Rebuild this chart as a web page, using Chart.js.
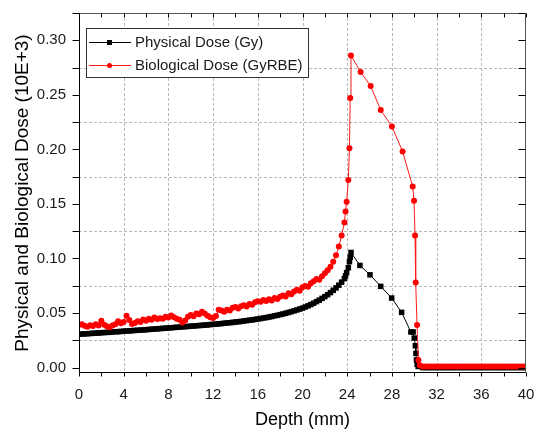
<!DOCTYPE html>
<html><head><meta charset="utf-8">
<script src="https://cdn.jsdelivr.net/npm/chart.js@4.4.0/dist/chart.umd.min.js"></script>
<style>html,body{margin:0;padding:0;background:#fff;}#c{display:block;}</style>
</head><body>
<canvas id="c" width="539" height="431"></canvas>
<script>
// ---- data ----
const depthDense = [0,0.25,0.5,0.75,1,1.25,1.5,1.75,2,2.25,2.5,2.75,3,3.25,3.5,3.75,4,4.25,4.5,4.75,5,5.25,5.5,5.75,6,6.25,6.5,6.75,7,7.25,7.5,7.75,8,8.25,8.5,8.75,9,9.25,9.5,9.75,10,10.25,10.5,10.75,11,11.25,11.5,11.75,12,12.25,12.5,12.75,13,13.25,13.5,13.75,14,14.25,14.5,14.75,15,15.25,15.5,15.75,16,16.25,16.5,16.75,17,17.25,17.5,17.75,18,18.25,18.5,18.75,19,19.25,19.5,19.75,20,20.25,20.5,20.75,21,21.25,21.5,21.75,22,22.25,22.5,22.75,23,23.25,23.5,23.75];
const physDense = [
.0305,.0307,.0309,.0310, .0312,.0314,.0315,.0317, .0319,.0321,.0322,.0324, .0326,.0328,.0329,.0331,
.0333,.0335,.0336,.0338, .0340,.0342,.0343,.0345, .0347,.0349,.0351,.0353, .0355,.0357,.0359,.0361,
.0363,.0365,.0367,.0369, .0371,.0373,.0375,.0377, .0379,.0381,.0383,.0385, .0387,.0389,.0391,.0394,
.0396,.0398,.0401,.0403, .0406,.0409,.0411,.0414, .0417,.0420,.0423,.0427, .0430,.0434,.0437,.0441,
.0445,.0449,.0454,.0458, .0463,.0468,.0474,.0479, .0485,.0491,.0498,.0505, .0512,.0520,.0528,.0536,
.0545,.0555,.0566,.0578, .0590,.0604,.0618,.0634, .0650,.0668,.0687,.0708, .0730,.0755,.0783,.0815];
const bioDense = [
.0390,.0398,.0382,.0375, .0388,.0380,.0396,.0385, .0428,.0392,.0378,.0370, .0385,.0396,.0424,.0405,
.0418,.0475,.0436,.0400, .0408,.0425,.0418,.0440, .0428,.0447,.0438,.0458, .0445,.0452,.0448,.0465,
.0458,.0478,.0462,.0448, .0438,.0412,.0432,.0465, .0482,.0470,.0495,.0488, .0512,.0496,.0475,.0462,
.0455,.0472,.0530,.0522, .0512,.0530,.0522,.0548, .0555,.0542,.0562,.0570, .0560,.0582,.0575,.0598,
.0608,.0602,.0620,.0610, .0625,.0615,.0638,.0628, .0648,.0660,.0652,.0680, .0672,.0698,.0712,.0705,
.0735,.0748,.0740,.0772, .0790,.0812,.0805,.0838, .0865,.0892,.0925,.0970, .1030,.1110,.1210,.1330];
const depthPeak = [23.85,23.95,24.1,24.2,24.27,24.34];
const physPeak  = [.0840,.0870,.0915,.0970,.1010,.1055];
const bioPeak   = [.143,.152,.172,.201,.247,.286];
const physFallDepth = [25.14,26.04,27.0,27.98,28.87,29.7,29.9,30.0,30.1,30.15,30.2,30.26,30.35];
const physFall      = [.0936,.0850,.0744,.0637,.0506,.0326,.0326,.0270,.0200,.0130,.0070,.0030,.0010];
const bioFallDepth  = [25.2,26.1,27.0,28.0,28.96,29.86,29.98,30.07,30.13,30.25,30.37,30.5];
const bioFall       = [.271,.258,.236,.221,.198,.166,.153,.121,.078,.039,.007,.002];
const depthTail = [30.75,31,31.25,31.5,31.75,32,32.25,32.5,32.75,33,33.25,33.5,33.75,34,34.25,34.5,34.75,35,35.25,35.5,35.75,36,36.25,36.5,36.75,37,37.25,37.5,37.75,38,38.25,38.5,38.75,39,39.25,39.5,39.75,40];
const physTail = [0,0,0,0,0,0,0,0,0,0,0,0,0,0,0,0,0,0,0,0,0,0,0,0,0,0,0,0,0,0,0,0,0,0,0,0,0,0];
const bioTail  = [.001,.001,.001,.001,.001,.001,.001,.001,.001,.001,.001,.001,.001,.001,.001,.001,.001,.001,.001,.001,.001,.001,.001,.001,.001,.001,.001,.001,.001,.001,.001,.001,.001,.001,.001,.001,.001,.001];

const seriesNames = ['Physical Dose (Gy)', 'Biological Dose (GyRBE)'];
const xTickLabels = [0,4,8,12,16,20,24,28,32,36,40];
const yTickLabels = [0,0.05,0.10,0.15,0.20,0.25,0.30];
const xMinorTicks = [0,2,4,6,8,10,12,14,16,18,20,22,24,26,28,30,32,34,36,38,40];
const yMinorTicks = [0,0.025,0.05,0.075,0.1,0.125,0.15,0.175,0.2,0.225,0.25,0.275,0.3,0.325];
const xGridLines = [4,8,12,16,20,24,28,32,36];
const yGridLines = [0.025,0.075,0.125,0.175,0.225,0.275];

function pts(xs, ys){ return xs.map((x,i)=>({x:x, y:ys[i]})); }
const physData = pts(depthDense, physDense).concat(pts(depthPeak, physPeak), pts(physFallDepth, physFall), pts(depthTail, physTail));
const bioData  = pts(depthDense, bioDense).concat(pts(depthPeak, bioPeak), pts(bioFallDepth, bioFall), pts(depthTail, bioTail));

const FONT = "'Liberation Sans', Arial, sans-serif";
Chart.defaults.font.family = FONT;

const decor = {
  id: 'decor',
  beforeDatasetsDraw(chart){
    const {ctx, chartArea:a, scales:{x, y}} = chart;
    ctx.save();
    ctx.strokeStyle = '#b8b8b8'; ctx.lineWidth = 1; ctx.setLineDash([3,2]);
    ctx.beginPath();
    xGridLines.forEach(v=>{ const p = Math.round(x.getPixelForValue(v)) + 0.5; ctx.moveTo(p, a.top); ctx.lineTo(p, a.bottom); });
    yGridLines.forEach(v=>{ const p = Math.round(y.getPixelForValue(v)) + 0.5; ctx.moveTo(a.left, p); ctx.lineTo(a.right, p); });
    ctx.stroke();
    ctx.restore();
  },
  afterDraw(chart){
    const {ctx, chartArea:a, scales:{x, y}} = chart;
    const L = Math.round(a.left)+0.5, R = Math.round(a.right)-0.5, T = Math.round(a.top)+0.5, B = Math.round(a.bottom)-0.5;
    ctx.save();
    ctx.setLineDash([]);
    ctx.lineWidth = 1;
    ctx.strokeStyle = '#555';
    ctx.beginPath(); ctx.moveTo(L, T); ctx.lineTo(R, T); ctx.lineTo(R, B); ctx.stroke();
    ctx.strokeStyle = '#000';
    ctx.beginPath(); ctx.moveTo(L, T); ctx.lineTo(L, B); ctx.lineTo(R, B); ctx.stroke();
    ctx.beginPath();
    yMinorTicks.forEach(v=>{ const p = Math.round(y.getPixelForValue(v))+0.5; if (p < T-1) return;
      ctx.moveTo(L-7, p); ctx.lineTo(L, p); ctx.moveTo(R, p); ctx.lineTo(R-7, p); });
    xMinorTicks.forEach(v=>{ const p = Math.round(x.getPixelForValue(v))+0.5;
      ctx.moveTo(p, B); ctx.lineTo(p, B+4); ctx.moveTo(p, T); ctx.lineTo(p, T+4); });
    ctx.stroke();
    // legend
    const bx = 86.5, by = 28.5, bw = 222, bh = 49;
    ctx.fillStyle = '#fff'; ctx.fillRect(bx, by, bw, bh);
    ctx.strokeStyle = '#333'; ctx.strokeRect(bx, by, bw, bh);
    const rows = [42, 65];
    chart.data.datasets.forEach((ds, i)=>{
      const ry = rows[i] + 0.5;
      ctx.strokeStyle = ds.borderColor; ctx.lineWidth = 1;
      ctx.beginPath(); ctx.moveTo(89, ry); ctx.lineTo(131, ry); ctx.stroke();
      ctx.fillStyle = ds.pointBackgroundColor;
      if (ds.pointStyle === 'rect') ctx.fillRect(107, rows[i]-2, 5, 5);
      else { ctx.beginPath(); ctx.arc(109.5, ry, 2.5, 0, Math.PI*2); ctx.fill(); }
      ctx.fillStyle = '#1a1a1a'; ctx.font = '15px ' + FONT; ctx.textBaseline = 'middle'; ctx.textAlign = 'left';
      ctx.fillText(ds.label, 135, rows[i] + 1);
    });
    ctx.restore();
  }
};

new Chart(document.getElementById('c'), {
  type: 'scatter',
  data: { datasets: [
    { label: seriesNames[0], data: physData, showLine: true, borderColor: '#000', borderWidth: 1,
      pointStyle: 'rect', pointRadius: 3.9, pointBackgroundColor: '#000', pointBorderWidth: 0, order: 2 },
    { label: seriesNames[1], data: bioData, showLine: true, borderColor: '#ff1a1a', borderWidth: 1,
      pointStyle: 'circle', pointRadius: 3, pointBackgroundColor: '#ff0000', pointBorderWidth: 0, order: 1 }
  ]},
  options: {
    responsive: false, devicePixelRatio: 1, animation: false,
    layout: { padding: { top: 13, right: 13, left: 0, bottom: 0 } },
    plugins: { legend: { display: false }, tooltip: { enabled: false } },
    scales: {
      x: { type: 'linear', min: 0, max: 40,
        afterBuildTicks: s => { s.ticks = xTickLabels.map(v => ({ value: v })); },
        afterFit: s => { s.height = 58; s.paddingLeft = 0; s.paddingRight = 0; },
        grid: { display: false, drawTicks: false }, border: { display: false },
        ticks: { padding: 13, color: '#1a1a1a', font: { size: 15 }, maxRotation: 0, autoSkip: false, callback: v => String(v) },
        title: { display: true, text: 'Depth (mm)', color: '#000', font: { size: 18 }, padding: { top: 0, bottom: 0 } }
      },
      y: { type: 'linear', min: -0.005, max: 0.325,
        afterBuildTicks: s => { s.ticks = yTickLabels.map(v => ({ value: v })); },
        afterFit: s => { s.width = 79; s.paddingTop = 0; s.paddingBottom = 0; },
        grid: { display: false, drawTicks: false }, border: { display: false },
        ticks: { padding: 13, color: '#1a1a1a', font: { size: 15 }, autoSkip: false, callback: v => Number(v).toFixed(2) },
        title: { display: true, text: 'Physical and Biological Dose (10E+3)', color: '#000', font: { size: 19 }, padding: { top: 11, bottom: 0 } }
      }
    }
  },
  plugins: [decor]
});
</script>
</body></html>
